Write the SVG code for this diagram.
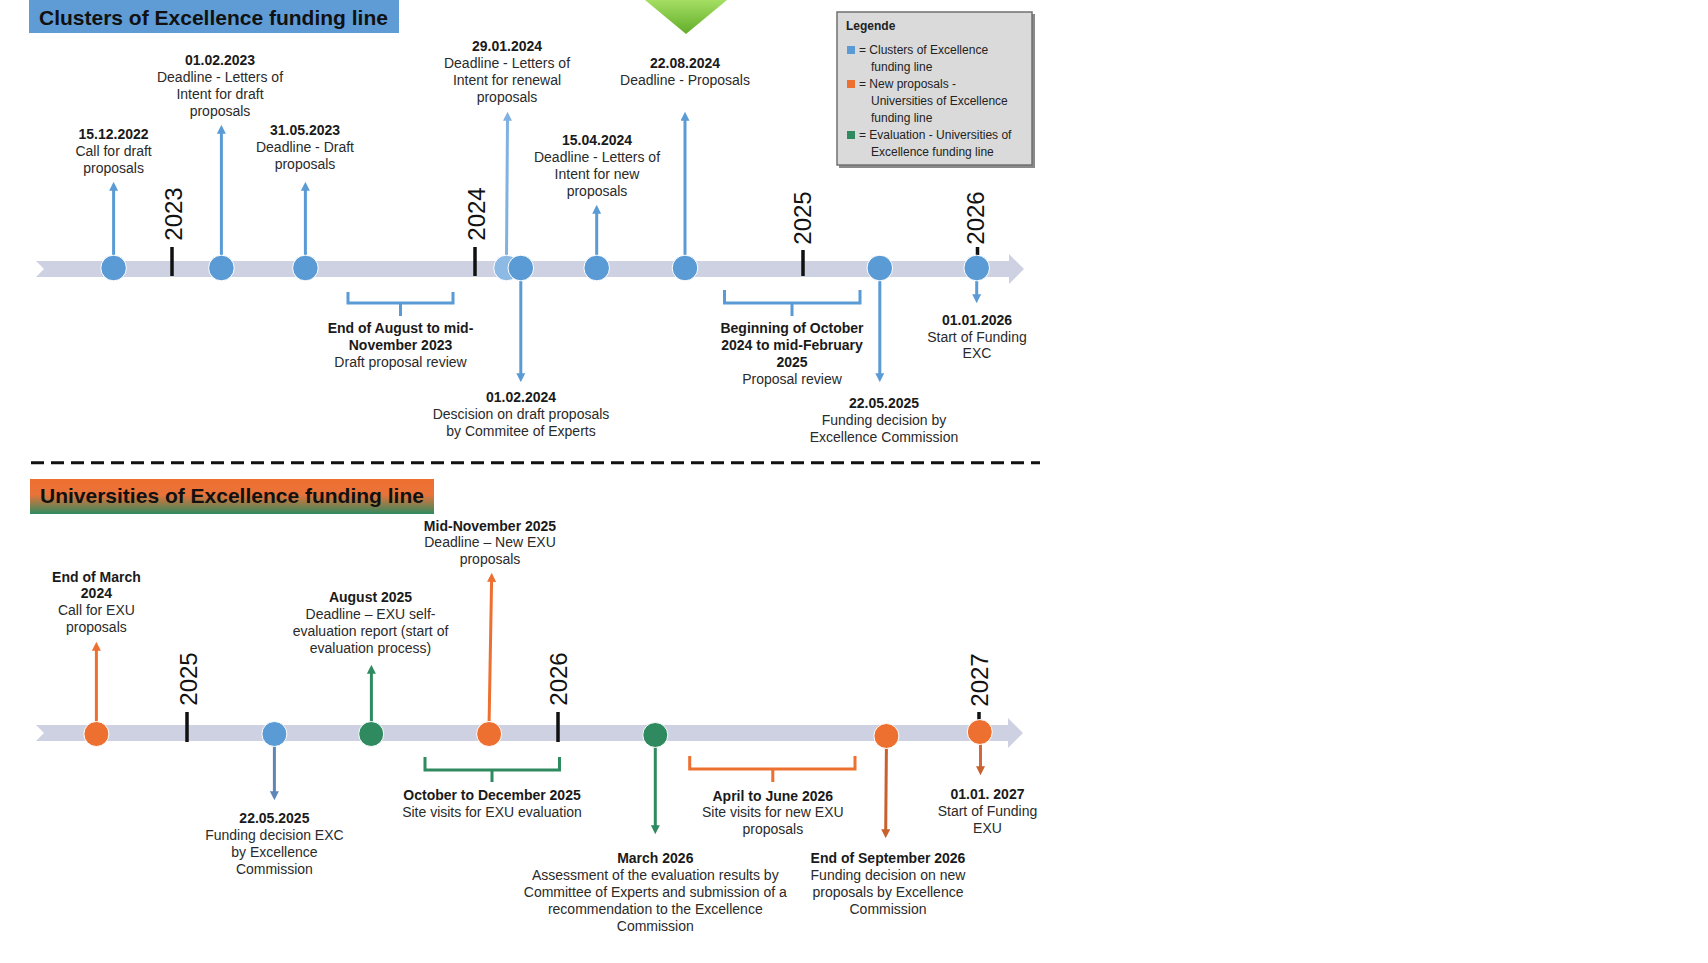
<svg xmlns="http://www.w3.org/2000/svg" width="1708" height="963" viewBox="0 0 1708 963">
<style>
.b{font-family:"Liberation Sans",Arial,sans-serif;font-weight:bold;font-size:14px;fill:#1a1a1a;text-anchor:middle}
.r{font-family:"Liberation Sans",Arial,sans-serif;font-size:14px;fill:#2a2a2a;text-anchor:middle}
.yr{font-family:"Liberation Sans",Arial,sans-serif;font-size:24px;fill:#111;text-anchor:middle}
.tt{font-family:"Liberation Sans",Arial,sans-serif;font-weight:bold;font-size:21px;fill:#111}
.lg{font-family:"Liberation Sans",Arial,sans-serif;font-size:12px;fill:#222}
.bar{fill:#ced1e2}
.tick{stroke:#111;stroke-width:3.5}
.cb{fill:#5b9bd5;stroke:#fff;stroke-width:1}
.co{fill:#ed7031;stroke:#fff;stroke-width:1}
.cg{fill:#2f8a60;stroke:#fff;stroke-width:1}
.lb{stroke:#5b9bd5;stroke-width:3;fill:none}
.lo{stroke:#ed7031;stroke-width:3;fill:none}
.lg2{stroke:#2f8a60;stroke-width:3;fill:none}
</style>
<defs>
<marker id="ab" viewBox="0 0 10 10" refX="2" refY="5" markerWidth="9" markerHeight="9" orient="auto" markerUnits="userSpaceOnUse"><path d="M0,0 L10,5 L0,10 z" fill="#5b9bd5"/></marker>
<marker id="abl" viewBox="0 0 10 10" refX="2" refY="5" markerWidth="9" markerHeight="9" orient="auto" markerUnits="userSpaceOnUse"><path d="M0,0 L10,5 L0,10 z" fill="#7fb2e0"/></marker>
<marker id="as" viewBox="0 0 10 10" refX="2" refY="5" markerWidth="9" markerHeight="9" orient="auto" markerUnits="userSpaceOnUse"><path d="M0,0 L10,5 L0,10 z" fill="#5f86b8"/></marker>
<marker id="ao" viewBox="0 0 10 10" refX="2" refY="5" markerWidth="9" markerHeight="9" orient="auto" markerUnits="userSpaceOnUse"><path d="M0,0 L10,5 L0,10 z" fill="#ed7031"/></marker>
<marker id="aod" viewBox="0 0 10 10" refX="2" refY="5" markerWidth="9" markerHeight="9" orient="auto" markerUnits="userSpaceOnUse"><path d="M0,0 L10,5 L0,10 z" fill="#c9612e"/></marker>
<marker id="ag" viewBox="0 0 10 10" refX="2" refY="5" markerWidth="9" markerHeight="9" orient="auto" markerUnits="userSpaceOnUse"><path d="M0,0 L10,5 L0,10 z" fill="#2f8a60"/></marker>
<linearGradient id="gt2" x1="0" y1="0" x2="0" y2="1">
<stop offset="0" stop-color="#ef6f2f"/><stop offset="0.45" stop-color="#e9733a"/><stop offset="1" stop-color="#2f8a5f"/>
</linearGradient>
<linearGradient id="gtri" x1="0" y1="0" x2="0" y2="1">
<stop offset="0" stop-color="#a4de62"/><stop offset="1" stop-color="#63ad2a"/>
</linearGradient>
</defs>
<rect width="1708" height="963" fill="#fff"/>

<g id="title-exc">
<rect x="29" y="0" width="370" height="33" fill="#5f9cd6"/>
<text class="tt" x="39" y="25">Clusters of Excellence funding line</text>
</g>
<g id="marker-triangle"><polygon points="645,0 727,0 686,34" fill="url(#gtri)"/></g>

<g id="legend">
<rect x="839" y="14" width="196" height="154" fill="#8a8a8a"/>
<rect x="837" y="12" width="195" height="153" fill="#dadada" stroke="#707070" stroke-width="1.5"/>
<text class="lg" x="846" y="30" style="font-weight:bold">Legende</text>
<rect x="847" y="46" width="8" height="8" fill="#5b9bd5"/>
<text class="lg" x="859" y="54">= Clusters of Excellence</text>
<text class="lg" x="871" y="71">funding line</text>
<rect x="847" y="80" width="8" height="8" fill="#ed7031"/>
<text class="lg" x="859" y="88">= New proposals -</text>
<text class="lg" x="871" y="105">Universities of Excellence</text>
<text class="lg" x="871" y="122">funding line</text>
<rect x="847" y="131" width="8" height="8" fill="#2f8a60"/>
<text class="lg" x="859" y="139">= Evaluation - Universities of</text>
<text class="lg" x="871" y="156">Excellence funding line</text>
</g>

<g id="timeline-exc">
<polygon class="bar" points="36,261 1009,261 1009,254 1024,269 1009,284 1009,277 36,277 44,269"/>
<line class="tick" x1="172" y1="247" x2="172" y2="276"/>
<line class="tick" x1="475" y1="247" x2="475" y2="276"/>
<line class="tick" x1="803" y1="250" x2="803" y2="276"/>
<line class="tick" x1="977.5" y1="247" x2="977.5" y2="258"/>
<text class="yr" transform="translate(182,214) rotate(-90)">2023</text>
<text class="yr" transform="translate(485,214) rotate(-90)">2024</text>
<text class="yr" transform="translate(811,218) rotate(-90)">2025</text>
<text class="yr" transform="translate(984,218) rotate(-90)">2026</text>
</g>

<g id="connectors">
<line class="lb" x1="113.6" y1="256" x2="113.6" y2="189" marker-end="url(#ab)"/>
<line class="lb" x1="221.4" y1="256" x2="221.4" y2="132" marker-end="url(#ab)"/>
<line class="lb" x1="305.4" y1="256" x2="305.4" y2="189" marker-end="url(#ab)"/>
<line x1="506.5" y1="256" x2="507.5" y2="119" stroke="#7fb2e0" stroke-width="3" marker-end="url(#abl)"/>
<line class="lb" x1="520.8" y1="280" x2="520.8" y2="375" marker-end="url(#ab)"/>
<line class="lb" x1="596.7" y1="256" x2="596.7" y2="212" marker-end="url(#ab)"/>
<line class="lb" x1="685" y1="256" x2="685" y2="119" marker-end="url(#ab)"/>
<line class="lb" x1="879.8" y1="280" x2="879.8" y2="375" marker-end="url(#ab)"/>
<line class="lb" x1="976.7" y1="280" x2="976.7" y2="296" marker-end="url(#ab)"/>
<path class="lb" d="M348,292 V303 H453 V292 M400.5,303 V316"/>
<path class="lb" d="M724.5,290 V303 H860 V290 M792,303 V316"/>

<line class="lo" x1="96.4" y1="722" x2="96.4" y2="649" marker-end="url(#ao)"/>
<line x1="274.4" y1="746" x2="274.4" y2="793" stroke="#5f86b8" stroke-width="3" marker-end="url(#as)"/>
<line class="lg2" x1="371.4" y1="722" x2="371.4" y2="672" marker-end="url(#ag)"/>
<line class="lo" x1="489.1" y1="722" x2="491.6" y2="580" marker-end="url(#ao)"/>
<path class="lg2" d="M425,757 V770 H559.5 V757 M492,770 V782"/>
<line class="lg2" x1="655.3" y1="747" x2="655.3" y2="827" marker-end="url(#ag)"/>
<path class="lo" d="M689.7,756 V769 H855 V756 M772.8,769 V782"/>
<line x1="886.4" y1="748" x2="885.7" y2="831" stroke="#c9612e" stroke-width="3" marker-end="url(#aod)"/>
<line x1="980.5" y1="744" x2="980.5" y2="768" stroke="#d2683a" stroke-width="3" marker-end="url(#aod)"/>
</g>

<g id="ev-15-12-2022">
<circle class="cb" cx="113.6" cy="268" r="12.8"/>
<text class="b" x="113.6" y="139">15.12.2022</text>
<text class="r" x="113.6" y="156">Call for draft</text>
<text class="r" x="113.6" y="173">proposals</text>
</g>
<g id="ev-01-02-2023">
<circle class="cb" cx="221.4" cy="268" r="12.8"/>
<text class="b" x="220" y="65">01.02.2023</text>
<text class="r" x="220" y="82">Deadline - Letters of</text>
<text class="r" x="220" y="99">Intent for draft</text>
<text class="r" x="220" y="116">proposals</text>
</g>
<g id="ev-31-05-2023">
<circle class="cb" cx="305.4" cy="268" r="12.8"/>
<text class="b" x="305" y="135">31.05.2023</text>
<text class="r" x="305" y="152">Deadline - Draft</text>
<text class="r" x="305" y="169">proposals</text>
</g>
<g id="ev-29-01-2024">
<circle cx="506.5" cy="268" r="12.8" fill="#8cbae4" stroke="#fff" stroke-width="1"/>
<text class="b" x="507" y="51">29.01.2024</text>
<text class="r" x="507" y="68">Deadline - Letters of</text>
<text class="r" x="507" y="85">Intent for renewal</text>
<text class="r" x="507" y="102">proposals</text>
</g>
<g id="ev-01-02-2024">
<circle class="cb" cx="520.8" cy="268" r="12.8"/>
<text class="b" x="521" y="402">01.02.2024</text>
<text class="r" x="521" y="419">Descision on draft proposals</text>
<text class="r" x="521" y="436">by Commitee of Experts</text>
</g>
<g id="ev-15-04-2024">
<circle class="cb" cx="596.7" cy="268" r="12.8"/>
<text class="b" x="597" y="145">15.04.2024</text>
<text class="r" x="597" y="162">Deadline - Letters of</text>
<text class="r" x="597" y="179">Intent for new</text>
<text class="r" x="597" y="196">proposals</text>
</g>
<g id="ev-22-08-2024">
<circle class="cb" cx="685" cy="268" r="12.8"/>
<text class="b" x="685" y="68">22.08.2024</text>
<text class="r" x="685" y="85">Deadline - Proposals</text>
</g>
<g id="ev-draft-review">
<text class="b" x="400.5" y="333">End of August to mid-</text>
<text class="b" x="400.5" y="350">November 2023</text>
<text class="r" x="400.5" y="367">Draft proposal review</text>
</g>
<g id="ev-proposal-review">
<text class="b" x="792" y="333">Beginning of October</text>
<text class="b" x="792" y="350">2024 to mid-February</text>
<text class="b" x="792" y="367">2025</text>
<text class="r" x="792" y="384">Proposal review</text>
</g>
<g id="ev-22-05-2025">
<circle class="cb" cx="879.8" cy="268" r="12.8"/>
<text class="b" x="884" y="408">22.05.2025</text>
<text class="r" x="884" y="425">Funding decision by</text>
<text class="r" x="884" y="442">Excellence Commission</text>
</g>
<g id="ev-01-01-2026">
<circle class="cb" cx="976.7" cy="268" r="12.8"/>
<text class="b" x="977" y="325">01.01.2026</text>
<text class="r" x="977" y="342">Start of Funding</text>
<text class="r" x="977" y="358">EXC</text>
</g>

<line id="separator" x1="31" y1="462.7" x2="1040" y2="462.7" stroke="#111" stroke-width="3" stroke-dasharray="13 7"/>

<g id="title-exu">
<rect x="30" y="479" width="404" height="35" fill="url(#gt2)"/>
<text class="tt" x="40" y="503">Universities of Excellence funding line</text>
</g>

<g id="timeline-exu">
<polygon class="bar" points="36,725 1008,725 1008,718 1023,733 1008,748 1008,741 36,741 44,733"/>
<line class="tick" x1="187" y1="712" x2="187" y2="742"/>
<line class="tick" x1="558" y1="712" x2="558" y2="742"/>
<line class="tick" x1="979" y1="712" x2="979" y2="722"/>
<text class="yr" transform="translate(197,679) rotate(-90)">2025</text>
<text class="yr" transform="translate(567,679) rotate(-90)">2026</text>
<text class="yr" transform="translate(988,680) rotate(-90)">2027</text>
</g>

<g id="ev-end-march-2024">
<circle class="co" cx="96.4" cy="734" r="12.5"/>
<text class="b" x="96.4" y="582">End of March</text>
<text class="b" x="96.4" y="598">2024</text>
<text class="r" x="96.4" y="615">Call for EXU</text>
<text class="r" x="96.4" y="632">proposals</text>
</g>
<g id="ev-exu-22-05-2025">
<circle class="cb" cx="274.4" cy="734" r="12.5"/>
<text class="b" x="274.4" y="823">22.05.2025</text>
<text class="r" x="274.4" y="840">Funding decision EXC</text>
<text class="r" x="274.4" y="857">by Excellence</text>
<text class="r" x="274.4" y="874">Commission</text>
</g>
<g id="ev-august-2025">
<circle class="cg" cx="371.2" cy="734" r="12.5"/>
<text class="b" x="370.5" y="602">August 2025</text>
<text class="r" x="370.5" y="619">Deadline – EXU self-</text>
<text class="r" x="370.5" y="636">evaluation report (start of</text>
<text class="r" x="370.5" y="653">evaluation process)</text>
</g>
<g id="ev-mid-november-2025">
<circle class="co" cx="489.1" cy="734" r="12.5"/>
<text class="b" x="490" y="531">Mid-November 2025</text>
<text class="r" x="490" y="547">Deadline – New EXU</text>
<text class="r" x="490" y="564">proposals</text>
</g>
<g id="ev-site-visits-eval">
<text class="b" x="492" y="800">October to December 2025</text>
<text class="r" x="492" y="817">Site visits for EXU evaluation</text>
</g>
<g id="ev-march-2026">
<circle class="cg" cx="655.3" cy="735" r="12.5"/>
<text class="b" x="655.3" y="863">March 2026</text>
<text class="r" x="655.3" y="880">Assessment of the evaluation results by</text>
<text class="r" x="655.3" y="897">Committee of Experts and submission of a</text>
<text class="r" x="655.3" y="914">recommendation to the Excellence</text>
<text class="r" x="655.3" y="931">Commission</text>
</g>
<g id="ev-site-visits-new">
<text class="b" x="772.8" y="801">April to June 2026</text>
<text class="r" x="772.8" y="817">Site visits for new EXU</text>
<text class="r" x="772.8" y="834">proposals</text>
</g>
<g id="ev-end-september-2026">
<circle class="co" cx="886.4" cy="736" r="12.5"/>
<text class="b" x="888" y="863">End of September 2026</text>
<text class="r" x="888" y="880">Funding decision on new</text>
<text class="r" x="888" y="897">proposals by Excellence</text>
<text class="r" x="888" y="914">Commission</text>
</g>
<g id="ev-01-01-2027">
<circle class="co" cx="979.8" cy="732" r="12.5"/>
<text class="b" x="987.5" y="799">01.01. 2027</text>
<text class="r" x="987.5" y="816">Start of Funding</text>
<text class="r" x="987.5" y="833">EXU</text>
</g>
</svg>
